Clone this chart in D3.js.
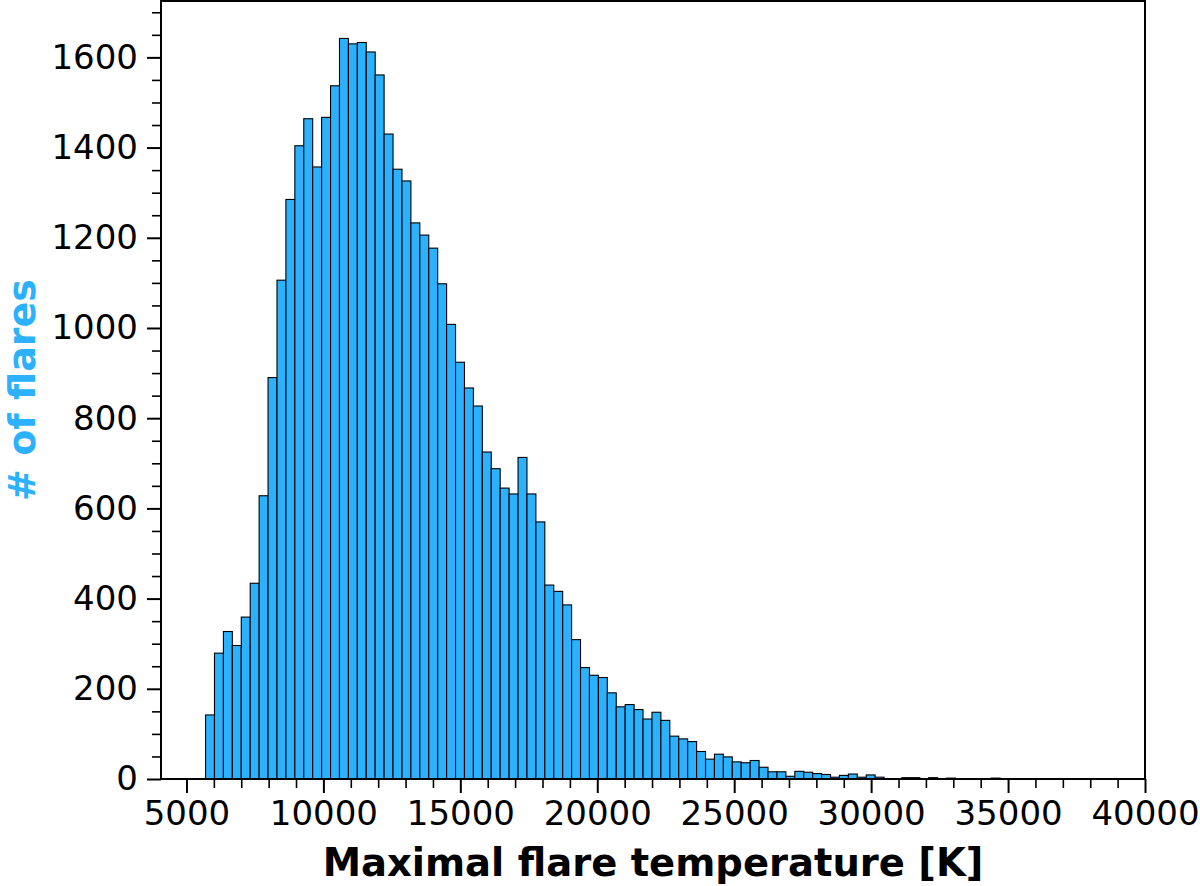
<!DOCTYPE html>
<html>
<head>
<meta charset="utf-8">
<script src="https://cdn.jsdelivr.net/npm/d3@7"></script>
<style>
  body { margin: 0; background: #fff; }
  text { font-family: "DejaVu Sans", sans-serif; }
</style>
</head>
<body>
<script>
// histogram bins (left edge of first bin and bin width, in K)
var binStart = 5697;
var binWidth = 326;

// number of flares in each bin
var counts = [142, 279, 327, 296, 359, 434, 628, 890, 1106, 1285,
              1404, 1464, 1357, 1467, 1537, 1642, 1630, 1633, 1612, 1561,
              1430, 1352, 1326, 1233, 1206, 1177, 1098, 1008, 924, 867,
              827, 725, 688, 645, 632, 713, 632, 570, 430, 416,
              386, 309, 247, 230, 225, 191, 160, 165, 154, 133,
              148, 130, 95, 89, 83, 61, 44, 55, 49, 38,
              36, 41, 26, 16, 16, 6, 17, 15, 12, 10,
              4, 8, 11, 4, 9, 4, 1, 1, 3, 3,
              1, 3, 1, 2, 1, 1, 0, 0, 2, 0,
              0, 0, 1, 1];

// axis ticks
var xTicks = [5000, 10000, 15000, 20000, 25000, 30000, 35000, 40000];
var yTicks = [0, 200, 400, 600, 800, 1000, 1200, 1400, 1600];

var barColor = "#2bb1fe";

var bins = counts.map(function(c, i) {
  return {x0: binStart + i * binWidth, x1: binStart + (i + 1) * binWidth, n: c};
});

var margin = {top: 1, right: 55, bottom: 107, left: 161};
var width = 1200 - margin.left - margin.right,
    height = 886 - margin.top - margin.bottom;

var svg = d3.select("body").append("svg")
    .attr("width", 1200)
    .attr("height", 886);

var g = svg.append("g")
    .attr("transform", "translate(" + margin.left + "," + margin.top + ")");

var x = d3.scaleLinear().domain([4070, 40000]).range([0, width]);
var y = d3.scaleLinear().domain([0, 1725]).range([height, 0]);

// bars
g.selectAll(".bar")
  .data(bins)
  .enter()
  .append("rect")
  .attr("class", "bar")
  .attr("x", function(d) { return x(d.x0); })
  .attr("y", function(d) { return y(d.n); })
  .attr("width", function(d) { return x(d.x1) - x(d.x0); })
  .attr("height", function(d) { return y(0) - y(d.n); })
  .attr("fill", barColor)
  .attr("stroke", "#000")
  .attr("stroke-width", 1.1);

// minor ticks
var xMinor = d3.range(5000, 40001, 1000).filter(function(v) { return xTicks.indexOf(v) < 0; });
var yMinor = d3.range(0, 1725, 50).filter(function(v) { return yTicks.indexOf(v) < 0; });

g.append("g")
  .attr("transform", "translate(0," + height + ")")
  .call(d3.axisBottom(x).tickValues(xMinor).tickSize(9).tickFormat(""))
  .call(function(a) { a.select(".domain").remove(); a.selectAll("line").attr("stroke-width", 1.6); });

g.append("g")
  .call(d3.axisLeft(y).tickValues(yMinor).tickSize(9).tickFormat(""))
  .call(function(a) { a.select(".domain").remove(); a.selectAll("line").attr("stroke-width", 1.6); });

// major ticks
var xAxis = g.append("g")
  .attr("transform", "translate(0," + height + ")")
  .call(d3.axisBottom(x).tickValues(xTicks).tickSize(14).tickPadding(8).tickFormat(d3.format("d")));
xAxis.select(".domain").remove();
xAxis.selectAll("line").attr("stroke-width", 2);
xAxis.selectAll("text").style("font-size", "34px").attr("fill", "#000");

var yAxis = g.append("g")
  .call(d3.axisLeft(y).tickValues(yTicks).tickSize(14).tickPadding(9).tickFormat(d3.format("d")));
yAxis.select(".domain").remove();
yAxis.selectAll("line").attr("stroke-width", 2);
yAxis.selectAll("text").style("font-size", "34px").attr("fill", "#000");

// frame
g.append("rect")
  .attr("width", width)
  .attr("height", height)
  .attr("fill", "none")
  .attr("stroke", "#000")
  .attr("stroke-width", 2);

// axis titles
g.append("text")
  .attr("x", width / 2)
  .attr("y", height + 97)
  .attr("text-anchor", "middle")
  .style("font-size", "38.5px")
  .style("font-weight", "bold")
  .text("Maximal flare temperature [K]");

g.append("text")
  .attr("transform", "rotate(-90)")
  .attr("x", -height / 2)
  .attr("y", -126)
  .attr("text-anchor", "middle")
  .style("font-size", "38px")
  .style("font-weight", "bold")
  .attr("fill", barColor)
  .text("# of flares");
</script>
</body>
</html>
